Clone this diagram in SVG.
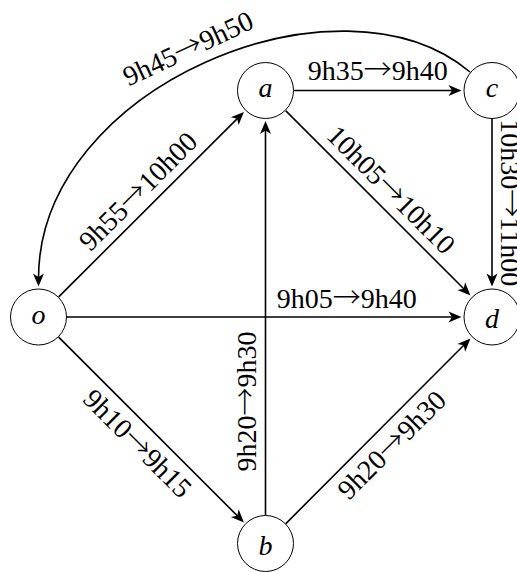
<svg xmlns="http://www.w3.org/2000/svg" width="517" height="572" viewBox="0 0 517 572">
<style>
.node circle{fill:#fff;stroke:#000;stroke-width:1}
.node text{font-family:"Liberation Serif",serif;font-style:italic;font-size:28px;text-anchor:middle;fill:#000}
.edge{fill:none;stroke:#000;stroke-width:1.6;marker-end:url(#arr)}
.lbl{font-family:"Liberation Serif",serif;font-size:28px;text-anchor:middle;fill:#000}
.ar{font-family:"Noto Sans CJK JP",sans-serif;font-weight:300;font-size:28px}
</style>
<defs>
<marker id="arr" markerUnits="userSpaceOnUse" viewBox="-14 -7 15 14" refX="-8" refY="0" markerWidth="15" markerHeight="14" orient="auto">
<path d="M0,0 L-13,-5.5 L-9.5,0 L-13,5.5 Z" fill="#000"/>
</marker>
</defs>
<g id="connectors">
<path class="edge" d="M58.67,296.87 L238.25,117.69"/>
<path class="edge" d="M67,317 L453.5,317"/>
<path class="edge" d="M58.65,337.15 L238.27,516.77"/>
<path class="edge" d="M294,90.5 L453.5,90.5"/>
<path class="edge" d="M285.65,110.65 L464.77,289.77"/>
<path class="edge" d="M492,119 L492,278.5"/>
<path class="edge" d="M265.5,515.5 L265.5,129"/>
<path class="edge" d="M285.63,523.82 L464.81,344.25"/>
<path class="edge" d="M470,72 C339.8,-37.3 38.5,86.5 38.5,278.5"/>
<text class="lbl" x="377.75" y="80">9h35<tspan class="ar">→</tspan>9h40</text>
<text class="lbl" x="346.7" y="307.7">9h05<tspan class="ar">→</tspan>9h40</text>
<text class="lbl" transform="translate(256.2,401.5) rotate(-90)">9h20<tspan class="ar">→</tspan>9h30</text>
<text class="lbl" transform="translate(501.3,202.75) rotate(90)">10h30<tspan class="ar">→</tspan>11h00</text>
<text class="lbl" transform="translate(144.7,197.9) rotate(-45)">9h55<tspan class="ar">→</tspan>10h00</text>
<text class="lbl" transform="translate(384.6,196.5) rotate(45)">10h05<tspan class="ar">→</tspan>10h10</text>
<text class="lbl" transform="translate(131,450.1) rotate(45)">9h10<tspan class="ar">→</tspan>9h15</text>
<text class="lbl" transform="translate(398.3,451.5) rotate(-45)">9h20<tspan class="ar">→</tspan>9h30</text>
<text class="lbl" transform="translate(192,57) rotate(-25)">9h45<tspan class="ar">→</tspan>9h50</text>
</g>
<g id="node-o" class="node"><circle cx="38.5" cy="317" r="28"/><text x="38.5" y="323.5">o</text></g>
<g id="node-a" class="node"><circle cx="265.5" cy="90.5" r="28"/><text x="265.5" y="97.3">a</text></g>
<g id="node-c" class="node"><circle cx="492" cy="90.5" r="28"/><text x="492" y="97.3">c</text></g>
<g id="node-d" class="node"><circle cx="492" cy="317" r="28"/><text x="492" y="328">d</text></g>
<g id="node-b" class="node"><circle cx="265.5" cy="543.5" r="28"/><text x="265.5" y="555">b</text></g>
</svg>
